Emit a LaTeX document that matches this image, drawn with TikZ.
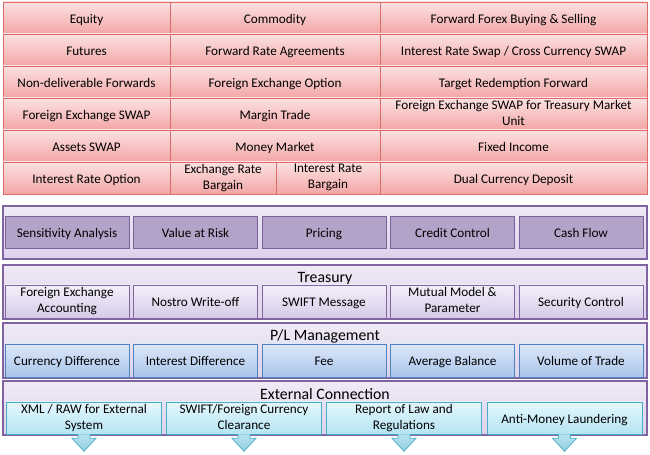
\documentclass[tikz,border=0pt]{standalone}
\usepackage{fontspec}
\setmainfont{Carlito}
\usepackage{tikz}
\usetikzlibrary{shadows}

\definecolor{cellline}{HTML}{DE6B6B}
\definecolor{celltop}{HTML}{FCE2E2}
\definecolor{cellbot}{HTML}{F3A6A6}
\definecolor{panelline}{HTML}{8064A2}
\definecolor{paneltop}{HTML}{EFEAF6}
\definecolor{panelbot}{HTML}{DDD2EB}
\definecolor{riskfill}{HTML}{B3A3C9}
\definecolor{riskline}{HTML}{7A619C}
\definecolor{trstop}{HTML}{F3EFF9}
\definecolor{trsbot}{HTML}{D6CAE7}
\definecolor{pltop}{HTML}{DDE8F8}
\definecolor{plbot}{HTML}{A9C4EB}
\definecolor{plline}{HTML}{4F81BD}
\definecolor{exttop}{HTML}{E4F7FC}
\definecolor{extbot}{HTML}{B5E4F2}
\definecolor{extline}{HTML}{4BACC6}

\newcommand{\boxstrut}{\rule[-1.6pt]{0pt}{9.1pt}}

\tikzset{
  label text/.style={align=center,font=\fontsize{7.5}{9.1}\selectfont,
    execute at begin node=\boxstrut,execute at end node=\boxstrut},
  cell/.style={label text,draw=cellline,top color=celltop,bottom color=cellbot,minimum height=0.64cm,inner sep=0pt},
  panel/.style={draw=panelline,thick,top color=paneltop,bottom color=panelbot,minimum width=12.88cm},
  title/.style={font=\fontsize{9}{10}\selectfont,inner sep=0pt,anchor=base},
  box/.style={label text,minimum width=2.48cm,inner sep=0pt,
    drop shadow={shadow xshift=0.4pt,shadow yshift=-0.6pt,opacity=0.35}},
  riskbox/.style={box,draw=riskline,fill=riskfill,minimum height=0.64cm},
  trsbox/.style={box,draw=panelline,top color=trstop,bottom color=trsbot,minimum height=0.66cm},
  plbox/.style={box,draw=plline,top color=pltop,bottom color=plbot,minimum height=0.66cm},
  extbox/.style={box,draw=extline,top color=exttop,bottom color=extbot,minimum height=0.64cm,minimum width=3.1cm},
  outarrow/.style={draw=extline,top color=extbot,bottom color=extline!60}
}

\begin{document}
\begin{tikzpicture}[x=0.02cm,y=-0.02cm]
\useasboundingbox[fill=white] (0,0) rectangle (650,455);

% products
\node[cell,minimum width=3.34cm] (g11) at (86.5,18) {Equity};
\node[cell,minimum width=4.2cm] (g12) at (275,18) {Commodity};
\node[cell,minimum width=5.34cm] (g13) at (513.5,18) {Forward Forex Buying \& Selling};
\node[cell,minimum width=3.34cm] (g21) at (86.5,50) {Futures};
\node[cell,minimum width=4.2cm] (g22) at (275,50) {Forward Rate Agreements};
\node[cell,minimum width=5.34cm] (g23) at (513.5,50) {Interest Rate Swap / Cross Currency SWAP};
\node[cell,minimum width=3.34cm] (g31) at (86.5,82) {Non-deliverable Forwards};
\node[cell,minimum width=4.2cm] (g32) at (275,82) {Foreign Exchange Option};
\node[cell,minimum width=5.34cm] (g33) at (513.5,82) {Target Redemption Forward};
\node[cell,minimum width=3.34cm] (g41) at (86.5,114) {Foreign Exchange SWAP};
\node[cell,minimum width=4.2cm] (g42) at (275,114) {Margin Trade};
\node[cell,minimum width=5.34cm] (g43) at (513.5,114) {Foreign Exchange SWAP for Treasury Market\\Unit};
\node[cell,minimum width=3.34cm] (g51) at (86.5,146) {Assets SWAP};
\node[cell,minimum width=4.2cm] (g52) at (275,146) {Money Market};
\node[cell,minimum width=5.34cm] (g53) at (513.5,146) {Fixed Income};
\node[cell,minimum width=3.34cm] (g61) at (86.5,178) {Interest Rate Option};
\node[cell,minimum width=2.12cm] (g62) at (223,178) {Exchange Rate\\Bargain};
\node[cell,minimum width=2.08cm] (g63) at (328,178) {Interest Rate\\Bargain};
\node[cell,minimum width=5.34cm] (g64) at (513.5,178) {Dual Currency Deposit};

% risk
\node[panel,minimum height=1.06cm] (risk) at (325,232.5) {};
\node[riskbox] (r1) at (67,232) {Sensitivity Analysis};
\node[riskbox] (r2) at (195.5,232) {Value at Risk};
\node[riskbox] (r3) at (324,232) {Pricing};
\node[riskbox] (r4) at (452.5,232) {Credit Control};
\node[riskbox] (r5) at (581,232) {Cash Flow};

% treasury
\node[panel,minimum height=1.08cm] (trs) at (325,292) {};
\node[title] (trstitle) at (325,282.5) {Treasury};
\node[trsbox] (t1) at (67,301.5) {Foreign Exchange\\Accounting};
\node[trsbox] (t2) at (195.5,301.5) {Nostro Write-off};
\node[trsbox] (t3) at (324,301.5) {SWIFT Message};
\node[trsbox] (t4) at (452.5,301.5) {Mutual Model \&\\Parameter};
\node[trsbox] (t5) at (581,301.5) {Security Control};

% p/l
\node[panel,minimum height=1.1cm] (pl) at (325,350.5) {};
\node[title] (pltitle) at (325,341) {P/L Management};
\node[plbox] (m1) at (67,360.5) {Currency Difference};
\node[plbox] (m2) at (195.5,360.5) {Interest Difference};
\node[plbox] (m3) at (324,360.5) {Fee};
\node[plbox] (m4) at (452.5,360.5) {Average Balance};
\node[plbox] (m5) at (581,360.5) {Volume of Trade};

% external
\node[panel,minimum height=1.08cm] (ext) at (325,408) {};
\node[title] (exttitle) at (325,400) {External Connection};
\node[extbox] (e1) at (84,418) {XML / RAW for External\\System};
\node[extbox] (e2) at (244,418) {SWIFT/Foreign Currency\\Clearance};
\node[extbox] (e3) at (404,418) {Report of Law and\\Regulations};
\node[extbox] (e4) at (564.5,418) {Anti-Money Laundering};

\foreach \i in {1,...,4}
  \draw[outarrow] (e\i.south) ++(-6,0) -- ++(0,4) -- ++(-6,0) -- ++(12,13) -- ++(12,-13) -- ++(-6,0) -- ++(0,-4);
\end{tikzpicture}
\end{document}
